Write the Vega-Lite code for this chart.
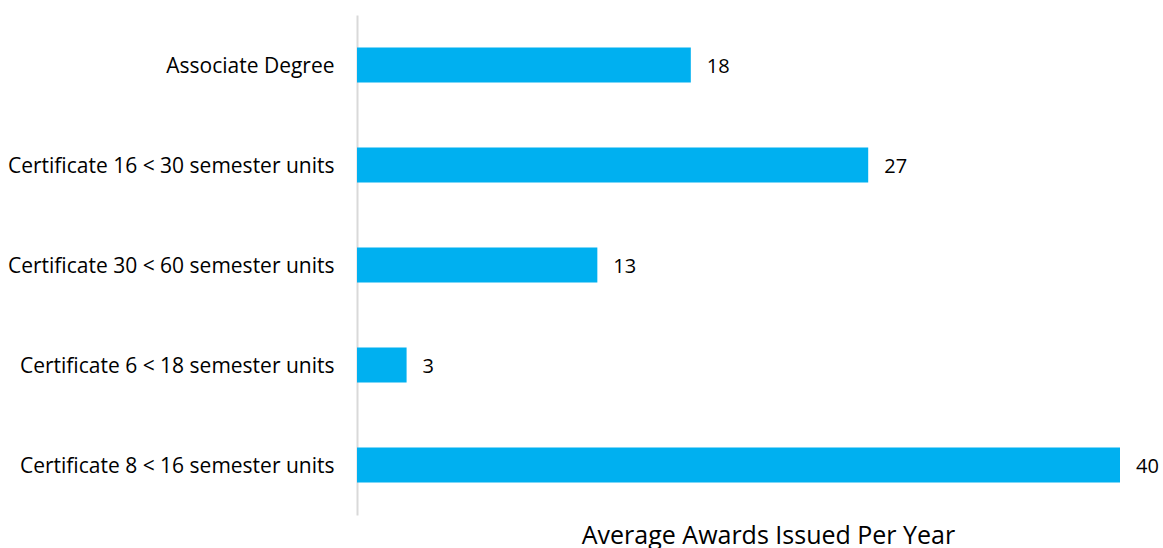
{
  "$schema": "https://vega.github.io/schema/vega-lite/v6.json",
  "autosize": "none",
  "width": 763,
  "height": 500,
  "padding": {"left": 357, "top": 15, "right": 43, "bottom": 33},
  "background": "white",
  "config": {"view": {"stroke": null}, "font": "Open Sans"},
  "data": {"values": [
    {"award": "Associate Degree", "avg": 17.5},
    {"award": "Certificate 16 < 30 semester units", "avg": 26.8},
    {"award": "Certificate 30 < 60 semester units", "avg": 12.6},
    {"award": "Certificate 6 < 18 semester units", "avg": 2.6},
    {"award": "Certificate 8 < 16 semester units", "avg": 40}
  ]},
  "encoding": {
    "y": {"field": "award", "type": "nominal", "sort": null,
      "scale": {"paddingInner": 0.65, "paddingOuter": 0.325},
      "axis": {"title": null, "ticks": false, "domainColor": "#d9d9d9", "domainWidth": 2,
        "labelFont": "Open Sans", "labelFontSize": 21, "labelColor": "#000000", "labelPadding": 23, "labelLimit": 400, "labelOffset": 2}},
    "x": {"field": "avg", "type": "quantitative", "scale": {"domain": [0, 40], "nice": false},
      "axis": {"title": "Average Awards Issued Per Year", "labels": false, "ticks": false, "grid": false, "domain": false,
        "titleFont": "Open Sans", "titleFontSize": 25, "titleFontWeight": "normal", "titleColor": "#000000",
        "titleX": 411, "titlePadding": 8}}
  },
  "layer": [
    {"mark": {"type": "bar", "color": "#00b0f0"}},
    {"mark": {"type": "text", "align": "left", "dx": 16, "dy": 2, "fontSize": 20, "font": "Open Sans", "color": "#000000"},
      "encoding": {"text": {"field": "avg", "type": "quantitative", "format": ".0f"}}}
  ]
}
